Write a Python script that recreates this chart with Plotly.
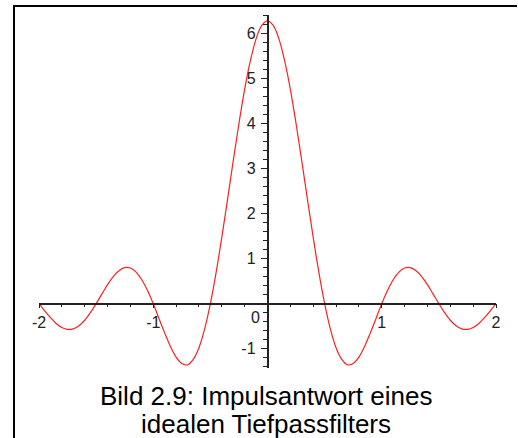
import plotly.graph_objects as go

# Impulse response of an ideal low-pass filter, sampled every 0.05
t = [-2.00, -1.95, -1.90, -1.85, -1.80, -1.75, -1.70, -1.65, -1.60, -1.55,
     -1.50, -1.45, -1.40, -1.35, -1.30, -1.25, -1.20, -1.15, -1.10, -1.05,
     -1.00, -0.95, -0.90, -0.85, -0.80, -0.75, -0.70, -0.65, -0.60, -0.55,
     -0.50, -0.45, -0.40, -0.35, -0.30, -0.25, -0.20, -0.15, -0.10, -0.05,
     0.00,
     0.05, 0.10, 0.15, 0.20, 0.25, 0.30, 0.35, 0.40, 0.45, 0.50,
     0.55, 0.60, 0.65, 0.70, 0.75, 0.80, 0.85, 0.90, 0.95, 1.00,
     1.05, 1.10, 1.15, 1.20, 1.25, 1.30, 1.35, 1.40, 1.45, 1.50,
     1.55, 1.60, 1.65, 1.70, 1.75, 1.80, 1.85, 1.90, 1.95, 2.00]
h = [0.00, -0.16, -0.31, -0.44, -0.53, -0.57, -0.56, -0.49, -0.37, -0.20,
     0.00, 0.21, 0.42, 0.60, 0.73, 0.80, 0.79, 0.70, 0.53, 0.29,
     0.00, -0.33, -0.65, -0.95, -1.19, -1.33, -1.36, -1.24, -0.98, -0.56,
     0.00, 0.69, 1.47, 2.31, 3.17, 4.00, 4.76, 5.39, 5.88, 6.18,
     6.28,
     6.18, 5.88, 5.39, 4.76, 4.00, 3.17, 2.31, 1.47, 0.69, 0.00,
     -0.56, -0.98, -1.24, -1.36, -1.33, -1.19, -0.95, -0.65, -0.33, 0.00,
     0.29, 0.53, 0.70, 0.79, 0.80, 0.73, 0.60, 0.42, 0.21, 0.00,
     -0.20, -0.37, -0.49, -0.56, -0.57, -0.53, -0.44, -0.31, -0.16, 0.00]

x_ticks = [-2, -1, 0, 1, 2]
x_labels = ["-2", "-1", "", "1", "2"]
y_ticks = [-1, 1, 2, 3, 4, 5, 6]
y_labels = ["-1", "1", "2", "3", "4", "5", "6"]
x_range = [-2.0, 2.0]
y_range = [-1.43, 6.41]

caption_1 = "Bild 2.9: Impulsantwort eines"
caption_2 = "idealen Tiefpassfilters"

W, H = 518, 438
ML, MR, MT, MB = 39, 22, 15, 70
PW, PH = W - ML - MR, H - MT - MB


def px_x(px):
    return (px - ML) / PW


def px_y(py):
    return (H - MB - py) / PH


AX = "#222222"
FONT = "Liberation Sans, Arial, sans-serif"
TICK_SIZE = 16

fig = go.Figure()
fig.add_trace(go.Scatter(
    x=t, y=h, mode="lines", line=dict(color="#ff2020", width=1.2, shape="spline"),
    hoverinfo="skip", showlegend=False,
))

x_pos = (0 - y_range[0]) / (y_range[1] - y_range[0])
y_pos = (0 - x_range[0]) / (x_range[1] - x_range[0])

fig.update_xaxes(
    range=x_range, anchor="free", position=x_pos,
    showline=True, linecolor=AX, linewidth=1.5,
    showgrid=False, zeroline=False,
    tickmode="array", tickvals=x_ticks, ticktext=x_labels,
    ticks="outside", ticklen=4, tickwidth=1, tickcolor=AX,
    minor=dict(tick0=0, dtick=0.2, ticks="outside", ticklen=3, tickcolor=AX, tickwidth=1, showgrid=False),
    tickfont=dict(family=FONT, size=TICK_SIZE, color=AX),
)
fig.update_yaxes(
    range=y_range, anchor="free", position=y_pos,
    showline=True, linecolor=AX, linewidth=1.5,
    showgrid=False, zeroline=False,
    tickmode="array", tickvals=y_ticks, ticktext=y_labels,
    ticks="outside", ticklen=6, tickwidth=1, tickcolor=AX,
    minor=dict(tick0=0, dtick=0.2, ticks="outside", ticklen=4, tickcolor=AX, tickwidth=1, showgrid=False),
    tickfont=dict(family=FONT, size=TICK_SIZE, color=AX),
    ticklabelstandoff=2,
)

annotations = [
    dict(x=0, y=0, xref="x", yref="y", text="0", showarrow=False,
         xanchor="right", yanchor="top", xshift=-6, yshift=-3,
         font=dict(family=FONT, size=TICK_SIZE, color=AX)),
    dict(x=px_x(265.5), y=px_y(406), xref="paper", yref="paper", text=caption_1,
         showarrow=False, xanchor="center", yanchor="bottom", yshift=-7,
         font=dict(family=FONT, size=26, color="black")),
    dict(x=px_x(265.5), y=px_y(434), xref="paper", yref="paper", text=caption_2,
         showarrow=False, xanchor="center", yanchor="bottom", yshift=-7,
         font=dict(family=FONT, size=26, color="black")),
]

# Frame: top and left border lines
shapes = [
    dict(type="line", xref="paper", yref="paper", x0=px_x(13), x1=px_x(517),
         y0=px_y(6), y1=px_y(6), line=dict(color="black", width=2)),
    dict(type="line", xref="paper", yref="paper", x0=px_x(14), x1=px_x(14),
         y0=px_y(5), y1=px_y(440), line=dict(color="black", width=2)),
]

fig.update_layout(
    width=W, height=H, margin=dict(l=ML, r=MR, t=MT, b=MB),
    paper_bgcolor="white", plot_bgcolor="white",
    annotations=annotations, shapes=shapes, showlegend=False,
)

fig.write_html("out.html")
